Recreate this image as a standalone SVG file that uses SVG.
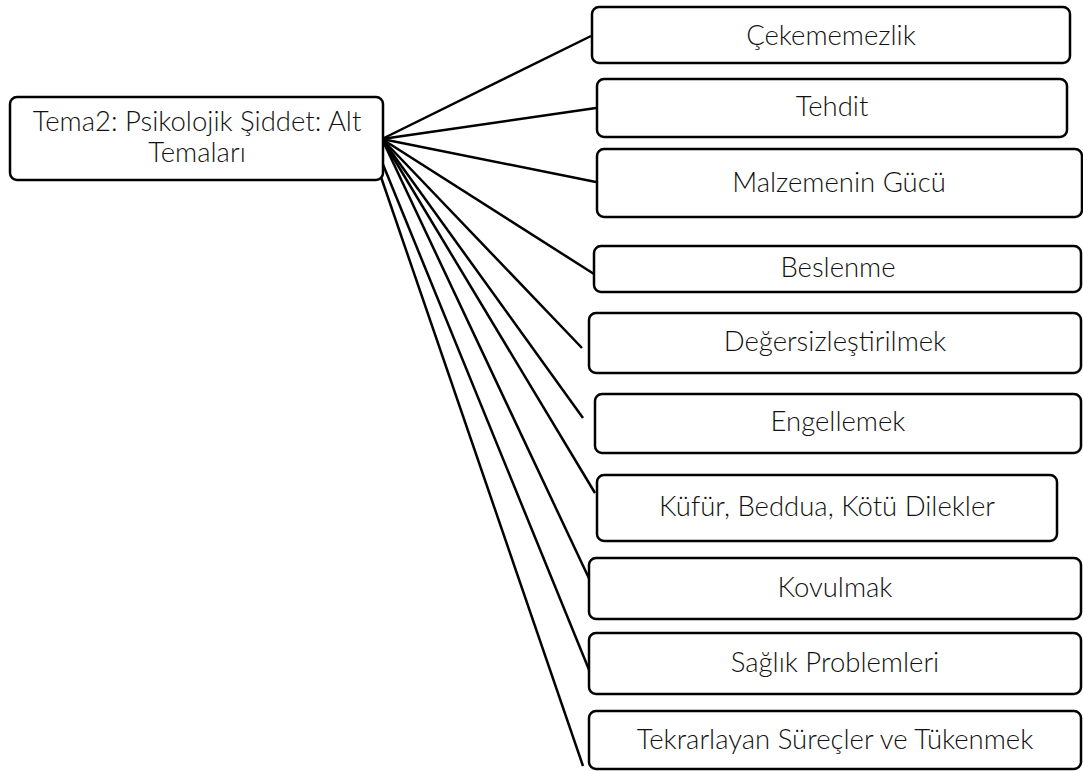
<svg xmlns="http://www.w3.org/2000/svg" width="1083" height="771" viewBox="0 0 1083 771">
<style>
.box{fill:#fff;stroke:#000;stroke-width:2.5}
.lbl{font-family:Lato,"Liberation Sans",sans-serif;font-weight:300;font-size:27.5px;fill:#111;text-anchor:middle}
.conn line{stroke:#000;stroke-width:2.5}
</style>
<rect width="1083" height="771" fill="#fff"/>
<g id="connectors" class="conn">
<line x1="382" y1="139" x2="591" y2="36"/>
<line x1="382" y1="139" x2="596" y2="108"/>
<line x1="382" y1="139" x2="596" y2="182"/>
<line x1="382" y1="139" x2="594" y2="274"/>
<line x1="382" y1="139" x2="582" y2="348"/>
<line x1="382" y1="139" x2="583" y2="418"/>
<line x1="382" y1="139" x2="595" y2="493"/>
<line x1="382" y1="139" x2="594" y2="589"/>
<line x1="382" y1="162" x2="594" y2="682"/>
<line x1="381" y1="177" x2="583" y2="766"/>
</g>
<g id="root">
<rect class="box" x="10" y="97" width="373" height="83" rx="7"/>
<text class="lbl" x="197" y="131">Tema2: Psikolojik Şiddet: Alt</text>
<text class="lbl" x="197" y="162">Temaları</text>
</g>
<g id="n1"><rect class="box" x="592" y="7" width="478" height="56" rx="7"/><text class="lbl" x="831" y="45">Çekememezlik</text></g>
<g id="n2"><rect class="box" x="597" y="79" width="470" height="58" rx="7"/><text class="lbl" x="832" y="116">Tehdit</text></g>
<g id="n3"><rect class="box" x="597" y="149" width="485" height="68" rx="7"/><text class="lbl" x="839" y="192">Malzemenin Gücü</text></g>
<g id="n4"><rect class="box" x="594" y="246" width="487" height="46" rx="7"/><text class="lbl" x="838" y="277">Beslenme</text></g>
<g id="n5"><rect class="box" x="589" y="313" width="492" height="60" rx="7"/><text class="lbl" x="835" y="351">Değersizleştirilmek</text></g>
<g id="n6"><rect class="box" x="595" y="394" width="486" height="59" rx="7"/><text class="lbl" x="838" y="431">Engellemek</text></g>
<g id="n7"><rect class="box" x="597" y="475" width="460" height="66" rx="7"/><text class="lbl" x="827" y="516">Küfür, Beddua, Kötü Dilekler</text></g>
<g id="n8"><rect class="box" x="589" y="558" width="492" height="61" rx="7"/><text class="lbl" x="835" y="597">Kovulmak</text></g>
<g id="n9"><rect class="box" x="589" y="633" width="492" height="61" rx="7"/><text class="lbl" x="835" y="672">Sağlık Problemleri</text></g>
<g id="n10"><rect class="box" x="589" y="711" width="492" height="58" rx="7"/><text class="lbl" x="835" y="749">Tekrarlayan Süreçler ve Tükenmek</text></g>
</svg>
